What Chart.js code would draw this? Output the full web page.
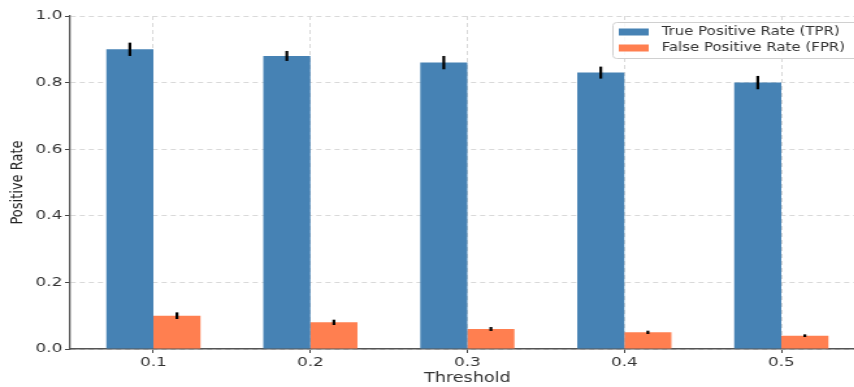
<!DOCTYPE html>
<html>
<head>
<meta charset="utf-8">
<script src="https://cdn.jsdelivr.net/npm/chart.js@4/dist/chart.umd.min.js"></script>
<style>
  html, body { margin: 0; padding: 0; background: #fff; overflow: hidden; width: 854px; height: 387px; }
  /* the reference is stretched sideways, so the chart is drawn narrow and widened */
  #wrap { width: 665px; height: 387px; position: relative; transform: scaleX(1.3); transform-origin: 0 0; }
</style>
</head>
<body>
<div id="wrap"><canvas id="rateChart"></canvas></div>
<script>
/* ---- data ---- */
const thresholds = ['0.1', '0.2', '0.3', '0.4', '0.5'];
const tprValues = [0.90, 0.88, 0.86, 0.83, 0.80];
const tprErrors = [0.02, 0.015, 0.02, 0.018, 0.02];
const fprValues = [0.10, 0.08, 0.06, 0.05, 0.04];
const fprErrors = [0.01, 0.008, 0.006, 0.005, 0.004];
const yTicks = [0, 0.2, 0.4, 0.6, 0.8, 1.0];

const BLUE = '#4682B4';
const ORANGE = '#FF7F50';
const FONT = 'DejaVu Sans';

// error bars drawn from the arrays, through the y scale
const errorBars = {
  id: 'errorBars',
  afterDatasetsDraw(chart) {
    const { ctx, scales: { y } } = chart;
    ctx.save();
    ctx.strokeStyle = '#000';
    ctx.lineWidth = 2.2;
    chart.data.datasets.forEach((ds, i) => {
      chart.getDatasetMeta(i).data.forEach((bar, j) => {
        const v = ds.data[j].y, e = ds.errors[j];
        ctx.beginPath();
        ctx.moveTo(bar.x, y.getPixelForValue(v - e));
        ctx.lineTo(bar.x, y.getPixelForValue(v + e));
        ctx.stroke();
      });
    });
    ctx.restore();
  }
};

// legend box inside the plot, top right
const insideLegend = {
  id: 'insideLegend',
  afterDraw(chart) {
    const { ctx } = chart;
    const x0 = 471, y0 = 22;
    ctx.save();
    ctx.fillStyle = 'rgba(255,255,255,0.85)';
    ctx.strokeStyle = '#d0d0d0';
    ctx.lineWidth = 1;
    ctx.beginPath();
    ctx.roundRect(x0 + 0.5, y0 + 0.5, 220, 36, 3);
    ctx.fill();
    ctx.stroke();
    ctx.font = '11.5px "' + FONT + '"';
    ctx.textBaseline = 'middle';
    chart.data.datasets.forEach((ds, i) => {
      const cy = y0 + 10 + i * 16;
      ctx.fillStyle = ds.backgroundColor;
      ctx.fillRect(476, cy - 3.5, 23, 7);
      ctx.fillStyle = '#333';
      ctx.fillText(ds.label, 509, cy + 0.5);
    });
    ctx.restore();
  }
};

new Chart(document.getElementById('rateChart'), {
  type: 'bar',
  data: {
    datasets: [
      {
        label: 'True Positive Rate (TPR)',
        data: tprValues.map((v, i) => ({ x: i, y: v })),
        errors: tprErrors,
        backgroundColor: BLUE,
        categoryPercentage: 0.6,
        barPercentage: 1.0
      },
      {
        label: 'False Positive Rate (FPR)',
        data: fprValues.map((v, i) => ({ x: i, y: v })),
        errors: fprErrors,
        backgroundColor: ORANGE,
        categoryPercentage: 0.6,
        barPercentage: 1.0
      }
    ]
  },
  options: {
    responsive: true,
    maintainAspectRatio: false,
    animation: false,
    layout: { padding: { top: 16, right: 0, left: 0, bottom: 0 } },
    plugins: {
      legend: { display: false },
      tooltip: { enabled: false }
    },
    scales: {
      x: {
        type: 'linear',
        min: -0.53,
        max: 4.53,
        offset: false,
        afterBuildTicks(axis) { axis.ticks = thresholds.map((t, i) => ({ value: i })); },
        grid: {
          offset: false,
          color: '#d9d9d9',
          tickColor: '#444',
          tickLength: 4,
          tickBorderDash: []
        },
        border: { color: '#555', width: 1.5, dash: [4, 3] },
        ticks: {
          color: '#333',
          font: { family: FONT, size: 13 },
          padding: 2,
          maxRotation: 0,
          callback: v => thresholds[v]
        },
        title: {
          display: true,
          text: 'Threshold',
          color: '#333',
          font: { family: FONT, size: 13.5 },
          padding: { top: -1, bottom: 0 }
        },
        afterFit(axis) { axis.height = 38; }
      },
      y: {
        min: 0,
        max: 1.0,
        afterBuildTicks(axis) { axis.ticks = yTicks.map(v => ({ value: v })); },
        grid: {
          color: '#d9d9d9',
          tickColor: '#444',
          tickLength: 4,
          tickBorderDash: []
        },
        border: { color: '#555', width: 1.3, dash: [4, 3] },
        ticks: {
          color: '#333',
          font: { family: FONT, size: 13 },
          padding: 2,
          callback: v => Number(v).toFixed(1)
        },
        title: {
          display: true,
          text: 'Positive Rate',
          color: '#222',
          font: { family: FONT, size: 13 },
          padding: { top: 6, bottom: 0 }
        },
        afterFit(axis) { axis.width = 54; }
      }
    }
  },
  plugins: [errorBars, insideLegend]
});
</script>
</body>
</html>
